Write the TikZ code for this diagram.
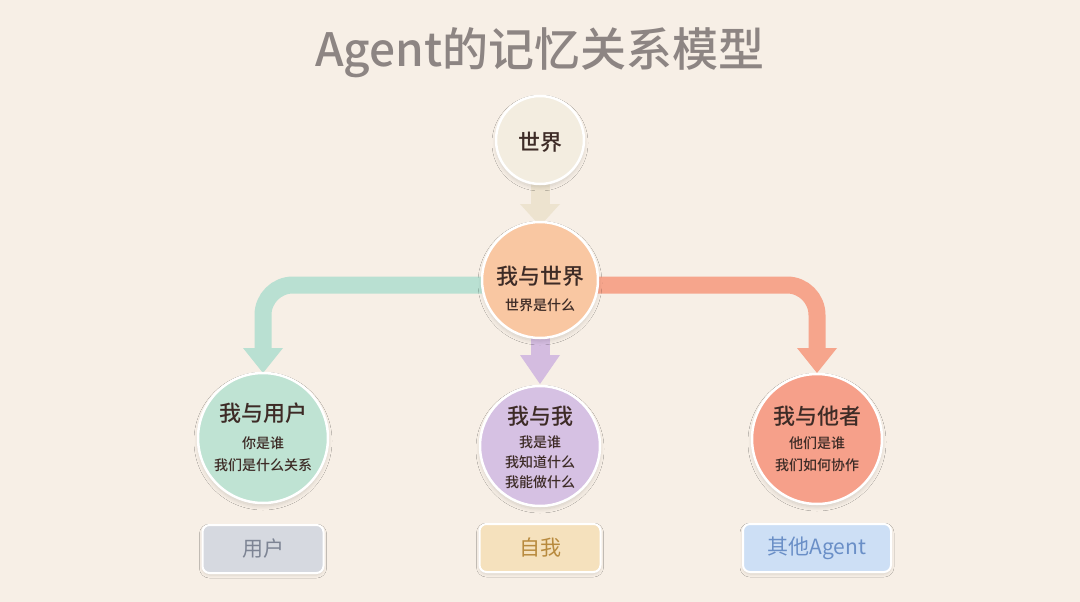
\documentclass[tikz,border=0pt]{standalone}
\usepackage{fontspec}
\newfontfamily\cjk{Noto Sans CJK SC}
\newfontfamily\cjkm{Noto Sans CJK SC Medium}
\usetikzlibrary{shadows.blur}
\definecolor{bg}{HTML}{F7EFE6}
\definecolor{titlec}{HTML}{8D8583}
\definecolor{txt}{HTML}{3D2B26}
\definecolor{worldc}{HTML}{F3EDE0}
\definecolor{worldarr}{HTML}{EDE3CF}
\definecolor{centerc}{HTML}{F9C7A2}
\definecolor{greenc}{HTML}{BFE3D3}
\definecolor{greenarr}{HTML}{B9E0D2}
\definecolor{purplec}{HTML}{D6C1E3}
\definecolor{purplearr}{HTML}{D4BCE0}
\definecolor{salmonc}{HTML}{F6A08A}
\definecolor{salmonarr}{HTML}{F6A58C}
\definecolor{userbox}{HTML}{D6D9E0}
\definecolor{usertxt}{HTML}{7D8494}
\definecolor{selfbox}{HTML}{F5E1BD}
\definecolor{selftxt}{HTML}{B88A3E}
\definecolor{agentbox}{HTML}{CDDFF5}
\definecolor{agenttxt}{HTML}{6A8FC7}
\tikzset{
  bubble/.style={circle, draw=white, line width=2.5pt, inner sep=0pt,
    blur shadow={shadow xshift=0pt, shadow yshift=-3pt, shadow blur steps=8, shadow blur radius=4pt, shadow opacity=14}},
  tagbox/.style={rounded corners=7pt, draw=white, line width=2pt, minimum width=121pt, minimum height=48pt,
    blur shadow={shadow xshift=0pt, shadow yshift=-2pt, shadow blur steps=6, shadow blur radius=3pt, shadow opacity=12}, font=\cjk\fontsize{21}{24}\selectfont},
  big/.style={font=\cjkm\fontsize{22}{26}\selectfont, text=txt},
  small/.style={font=\cjkm\fontsize{14}{16}\selectfont, text=txt},
  shaft/.style={line width=17pt, rounded corners=30pt},
}
\begin{document}
\begin{tikzpicture}[x=1pt,y=-1pt]
\fill[bg] (0,0) rectangle (1080,602);
\useasboundingbox (0,0) rectangle (1080,602);
% title
\node[font=\cjkm\fontsize{46}{50}\selectfont, text=titlec] (title) at (540,53) {Agent的记忆关系模型};
% coordinates
\coordinate (cC) at (540,280);
\coordinate (hL) at (263,348);
\coordinate (hM) at (540,355);
\coordinate (hR) at (817,348);
\coordinate (hW) at (540,204);
% arrows
\draw[shaft, greenarr] (cC) |- (263,285) -- (hL);
\fill[greenarr] ([xshift=-20pt]hL) -- ([xshift=20pt]hL) -- ([yshift=-25pt]hL) -- cycle;
\draw[shaft, salmonarr] (cC) |- (817,285) -- (hR);
\fill[salmonarr] ([xshift=-20pt]hR) -- ([xshift=20pt]hR) -- ([yshift=-25pt]hR) -- cycle;
\draw[line width=19pt, purplearr] (cC) -- (hM);
\fill[purplearr] ([xshift=-20pt]hM) -- ([xshift=20pt]hM) -- ([yshift=-29pt]hM) -- cycle;
\draw[line width=19pt, worldarr] (540,142) -- (hW);
\fill[worldarr] ([xshift=-20pt]hW) -- ([xshift=20pt]hW) -- ([yshift=-22pt]hW) -- cycle;
% circles
\node[bubble, fill=worldc, minimum size=88pt] (world) at (540,140) {};
\node[big] (worldt) at (540,142) {世界};
\node[bubble, fill=centerc, minimum size=116pt] (center) at (cC) {};
\node[big] (centert) at (540,276) {我与世界};
\node[small] (centers) at (540,305) {世界是什么};
\node[bubble, fill=greenc, minimum size=130pt] (user) at (263,438) {};
\node[big] (usert) at (263,413) {我与用户};
\node[small] (users1) at (263,443) {你是谁};
\node[small] (users2) at (263,465) {我们是什么关系};
\node[bubble, fill=purplec, minimum size=120pt] (self) at (540,446) {};
\node[big] (selft) at (540,416) {我与我};
\node[small] (selfs1) at (540,442) {我是谁};
\node[small] (selfs2) at (540,462) {我知道什么};
\node[small] (selfs3) at (540,482) {我能做什么};
\node[bubble, fill=salmonc, minimum size=130pt] (other) at (817,439) {};
\node[big] (othert) at (817,416) {我与他者};
\node[small] (others1) at (817,443) {他们是谁};
\node[small] (others2) at (817,465) {我们如何协作};
% tags
\node[tagbox, fill=userbox, text=usertxt] (tuser) at (263,549) {用户};
\node[tagbox, fill=selfbox, text=selftxt] (tself) at (540,548) {自我};
\node[tagbox, fill=agentbox, text=agenttxt, minimum width=148pt] (tagent) at (817,548) {其他Agent};
\end{tikzpicture}
\end{document}
